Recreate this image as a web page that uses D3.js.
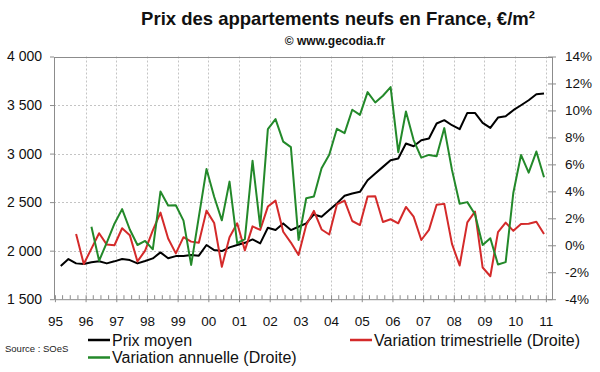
<!DOCTYPE html>
<html><head><meta charset="utf-8">
<script src="https://cdn.jsdelivr.net/npm/d3@7"></script>
<style>body{margin:0;background:#fff}svg{display:block}</style>
</head><body><svg id="c" width="600" height="372"></svg>
<script>
// ---- DATA ----
const years = [1995,1996,1997,1998,1999,2000,2001,2002,2003,2004,2005,2006,2007,2008,2009,2010,2011];
const yearLabels = ["95","96","97","98","99","00","01","02","03","04","05","06","07","08","09","10","11"];
const quarters = [];
for (let y = 1995; y <= 2010; y++) for (let q = 1; q <= 4; q++) quarters.push({year: y, q: q});
const leftTicks = [1500, 2000, 2500, 3000, 3500, 4000];
const rightTicks = [-4, -2, 0, 2, 4, 6, 8, 10, 12, 14];
const prixMoyen = [1842,1914,1869,1862,1880,1890,1869,1890,1914,1903,
  1869,1893,1920,1982,1921,1944,1944,1955,1948,2058,
  2006,1996,2034,2058,2081,2116,2075,2236,2212,2281,
  2212,2246,2281,2373,2349,2418,2487,2565,2589,2606,
  2726,2795,2863,2932,2950,3104,3076,3138,3155,3310,
  3344,3292,3251,3419,3419,3316,3264,3371,3385,3447,
  3498,3549,3611,3618];
const varTrimestrielle = [null,null,0.84,-1.39,-0.25,0.89,0.05,0.0,1.26,0.75,
  -1.2,-0.4,1.1,2.42,0.5,-0.6,0.6,0.27,0.18,2.57,
  1.65,-1.59,0.6,1.63,-0.38,1.4,1.14,2.87,3.31,1.0,
  0.2,-0.72,1.5,2.55,1.17,0.8,3.03,3.31,1.8,1.5,
  3.61,3.63,1.73,1.93,1.63,2.84,2.12,0.39,1.14,3.0,
  3.07,0.1,-1.5,1.7,2.5,-1.65,-2.3,0.97,1.68,1.07,
  1.58,1.59,1.75,0.84];
const varAnnuelle = [null,null,null,null,1.38,-1.15,0.2,1.6,2.68,1.17,
  0.02,0.32,-0.3,3.98,2.95,2.97,1.83,-1.46,2.1,5.65,
  3.6,1.85,4.72,0.15,0.45,6.27,1.38,8.61,9.36,7.69,
  7.28,0.39,3.49,3.61,5.72,6.71,8.64,8.32,10.05,9.67,
  11.36,10.59,11.09,11.73,6.9,9.92,7.8,6.5,6.7,6.6,
  8.69,5.59,3.08,3.2,2.3,0.02,0.52,-1.43,-1.25,3.9,
  6.7,5.39,6.95,5.05];
const legendLabels = ["Prix moyen", "Variation trimestrielle (Droite)", "Variation annuelle (Droite)"];
const colors = ["#000000", "#d42a2a", "#23892a"];

// ---- CHART ----
const svg = d3.select("#c");
const FONT = "Liberation Sans, Arial, sans-serif";
const L = 54, R = 552, T = 56.5, B = 299.2;
const tOf = d => d.year + (d.q - 1) / 4 + 0.19;
const x = d3.scaleLinear().domain([1994.97, 2011.2]).range([L, R]);
const yL = d3.scaleLinear().domain([1500, 4000]).range([B, T]);
const yR = d3.scaleLinear().domain([-4, 14]).range([B, T]);
const fmtL = d3.formatLocale({decimal: ",", thousands: " ", grouping: [3], currency: ["", "€"]}).format(",d");

svg.append("rect").attr("width", 600).attr("height", 372).attr("fill", "#fff");

// grid
const grid = svg.append("g").attr("stroke", "#c4c4c4").attr("stroke-dasharray", "2,2").attr("stroke-width", 1);
grid.selectAll(".gy").data(leftTicks.slice(1, -1)).join("line")
  .attr("x1", L).attr("x2", R).attr("y1", d => Math.round(yL(d)) + 0.5).attr("y2", d => Math.round(yL(d)) + 0.5);
grid.selectAll(".gx").data(years.slice(1)).join("line")
  .attr("y1", T).attr("y2", B).attr("x1", d => Math.round(x(d)) + 0.5).attr("x2", d => Math.round(x(d)) + 0.5);

// frame top
svg.append("line").attr("x1", L).attr("x2", R).attr("y1", Math.round(T) + 0.5).attr("y2", Math.round(T) + 0.5)
  .attr("stroke", "#8c8c8c");

// left axis
const gL = svg.append("g").attr("transform", `translate(${L},0)`)
  .call(d3.axisLeft(yL).tickValues(leftTicks).tickFormat(fmtL).tickSizeOuter(0).tickSizeInner(4).tickPadding(8));
// right axis
const gR = svg.append("g").attr("transform", `translate(${R},0)`)
  .call(d3.axisRight(yR).tickValues(rightTicks).tickFormat(d => d + "%").tickSizeOuter(0).tickSizeInner(4).tickPadding(9));
gR.selectAll(".tick line").attr("x1", -4);
// bottom axis (years + quarterly minor ticks)
const gB = svg.append("g").attr("transform", `translate(0,${B})`)
  .call(d3.axisBottom(x).tickValues(years).tickFormat((d, i) => yearLabels[i]).tickSizeOuter(0).tickSizeInner(3));
gB.selectAll(".tick line").attr("y1", -4);
gB.selectAll(".tick text").attr("y", 27).attr("dy", 0);
const minor = [];
years.slice(0, -1).forEach(yy => [0.25, 0.5, 0.75].forEach(f => minor.push(yy + f)));
gB.selectAll(".minor").data(minor).join("line").attr("class", "minor")
  .attr("x1", d => x(d)).attr("x2", d => x(d)).attr("y1", 0).attr("y2", -4).attr("stroke", "#8c8c8c");

[gL, gR, gB].forEach(g => {
  g.select(".domain").attr("stroke", "#8c8c8c");
  g.selectAll(".tick line").attr("stroke", "#8c8c8c");
  g.selectAll(".tick text").attr("font-family", FONT).attr("font-size", 14).attr("fill", "#111");
});
gB.selectAll(".tick text").attr("font-size", 13.5);
gR.selectAll(".tick text").attr("font-size", 13.5);

// lines
const lineL = d3.line().defined(d => d.v != null).x(d => x(tOf(d))).y(d => yL(d.v));
const lineR = d3.line().defined(d => d.v != null).x(d => x(tOf(d))).y(d => yR(d.v));
const mk = arr => quarters.map((q, i) => ({year: q.year, q: q.q, v: arr[i]}));
svg.append("path").datum(mk(prixMoyen)).attr("d", lineL).attr("fill", "none").attr("stroke", colors[0]).attr("stroke-width", 2).attr("stroke-linejoin", "round");
svg.append("path").datum(mk(varTrimestrielle)).attr("d", lineR).attr("fill", "none").attr("stroke", colors[1]).attr("stroke-width", 2).attr("stroke-linejoin", "round");
svg.append("path").datum(mk(varAnnuelle)).attr("d", lineR).attr("fill", "none").attr("stroke", colors[2]).attr("stroke-width", 2).attr("stroke-linejoin", "round");

// titles
svg.append("text").attr("x", 338).attr("y", 25).attr("text-anchor", "middle").attr("font-family", FONT)
  .attr("font-weight", "bold").attr("font-size", 18.5).attr("fill", "#111").text("Prix des appartements neufs en France, €/m²");
svg.append("text").attr("x", 335).attr("y", 45).attr("text-anchor", "middle").attr("font-family", FONT)
  .attr("font-weight", "bold").attr("font-size", 12).attr("fill", "#111").text("© www.gecodia.fr");

// legend
const legPos = [{x: 88, y: 340}, {x: 350, y: 340}, {x: 88, y: 357.5}];
const leg = svg.append("g");
legendLabels.forEach((lab, i) => {
  const p = legPos[i];
  leg.append("line").attr("x1", p.x).attr("x2", p.x + 22).attr("y1", p.y).attr("y2", p.y)
    .attr("stroke", colors[i]).attr("stroke-width", 2.5);
  leg.append("text").attr("x", p.x + 24).attr("y", p.y + 5.5).attr("font-family", FONT)
    .attr("font-size", 16).attr("fill", "#111").text(lab);
});
svg.append("text").attr("x", 5).attr("y", 352).attr("font-family", FONT).attr("font-size", 9.5)
  .attr("fill", "#222").text("Source : SOeS");
</script></body></html>
